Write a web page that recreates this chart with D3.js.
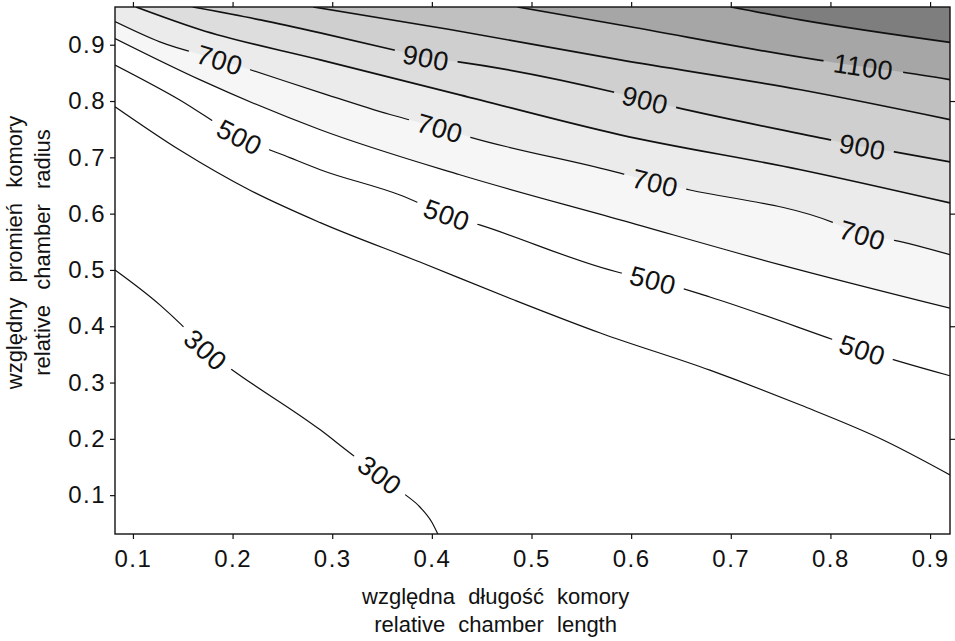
<!DOCTYPE html>
<html>
<head>
<meta charset="utf-8">
<script src="https://cdn.jsdelivr.net/npm/d3@7"></script>
<style>
  body { margin: 0; background: #fff; }
  text { font-family: "Liberation Sans", Arial, sans-serif; fill: #111; }
</style>
</head>
<body>
<div class="chart"></div>
<script>
// Contour lines: [relative length, relative radius]
const levels = [300, 400, 500, 600, 700, 800, 900, 1000, 1100, 1200];

const line300 = [[0.082, 0.500], [0.127, 0.438], [0.149, 0.402], [0.173, 0.358], [0.197, 0.326],
  [0.288, 0.216], [0.323, 0.168], [0.348, 0.136], [0.371, 0.104], [0.388, 0.079], [0.400, 0.052], [0.406, 0.031]];
const line400 = [[0.082, 0.790], [0.147, 0.713], [0.217, 0.642], [0.288, 0.584], [0.388, 0.514],
  [0.482, 0.447], [0.569, 0.388], [0.679, 0.322], [0.770, 0.260], [0.853, 0.198], [0.920, 0.136]];
const line500 = [[0.082, 0.864], [0.147, 0.802], [0.207, 0.736], [0.258, 0.699], [0.288, 0.678],
  [0.368, 0.633], [0.415, 0.598], [0.448, 0.580], [0.589, 0.495], [0.622, 0.482], [0.679, 0.452],
  [0.803, 0.376], [0.832, 0.358], [0.920, 0.312]];
const line600 = [[0.082, 0.911], [0.167, 0.838], [0.288, 0.749], [0.428, 0.669], [0.589, 0.589],
  [0.750, 0.509], [0.920, 0.432]];
const line700 = [[0.082, 0.941], [0.127, 0.905], [0.187, 0.873], [0.217, 0.856], [0.288, 0.815],
  [0.358, 0.776], [0.408, 0.752], [0.438, 0.736], [0.589, 0.672], [0.624, 0.655], [0.659, 0.642],
  [0.803, 0.584], [0.832, 0.562], [0.863, 0.553], [0.920, 0.527]];
const line800 = [[0.103, 0.967], [0.167, 0.927], [0.288, 0.873], [0.428, 0.811], [0.589, 0.740],
  [0.770, 0.678], [0.920, 0.619]];
const line900 = [[0.160, 0.967], [0.228, 0.944], [0.288, 0.921], [0.361, 0.891], [0.394, 0.877],
  [0.425, 0.870], [0.582, 0.816], [0.614, 0.802], [0.642, 0.790], [0.800, 0.731], [0.832, 0.719],
  [0.863, 0.710], [0.920, 0.692]];
const line1000 = [[0.281, 0.967], [0.418, 0.927], [0.589, 0.873], [0.770, 0.820], [0.920, 0.767]];
const line1100 = [[0.486, 0.967], [0.589, 0.935], [0.787, 0.873], [0.833, 0.861], [0.870, 0.852], [0.920, 0.838]];
const line1200 = [[0.700, 0.967], [0.770, 0.944], [0.920, 0.904]];

const contourLines = [line300, line400, line500, line600, line700, line800, line900, line1000, line1100, line1200];

// grey shade of the area lying above each contour
const shadeLevels = [600, 700, 800, 900, 1000, 1100, 1200];
const shadeColors = ["#f6f6f6", "#ebebeb", "#dddddd", "#cfcfcf", "#c0c0c0", "#a6a6a6", "#7e7e7e"];

// contour labels: level and position along the length axis
const labelLevels = [700, 500, 300, 900, 700, 500, 300, 900, 700, 500, 1100, 900, 700, 500];
const labelX = [0.187, 0.207, 0.173, 0.394, 0.408, 0.415, 0.348, 0.614, 0.624, 0.622, 0.833, 0.832, 0.832, 0.832];

const xTicks = [0.1, 0.2, 0.3, 0.4, 0.5, 0.6, 0.7, 0.8, 0.9];
const yTicks = [0.1, 0.2, 0.3, 0.4, 0.5, 0.6, 0.7, 0.8, 0.9];
const yTicksRight = [0.2, 0.4, 0.6, 0.8];

// Set the dimensions and margins of the graph
let margin = { top: 7, right: 5, bottom: 107, left: 115 },
  width = 955 - margin.left - margin.right,
  height = 641 - margin.top - margin.bottom;

const svg = d3
  .select(".chart")
  .append("svg")
  .attr("width", 955)
  .attr("height", 641)
  .append("g")
  .attr("transform", `translate(${margin.left},${margin.top})`);

const x = d3.scaleLinear().domain([0.082, 0.920]).range([0, width]);
const y = d3.scaleLinear().domain([0.031, 0.967]).range([height, 0]);

const lineGen = d3
  .line()
  .curve(d3.curveMonotoneX)
  .x((d) => x(d[0]))
  .y((d) => y(d[1]));

svg.append("clipPath").attr("id", "plot").append("rect").attr("width", width).attr("height", height);

// shaded areas, painted from the lowest level up
const shade = svg.append("g").attr("clip-path", "url(#plot)");
shadeLevels.forEach((lev, i) => {
  const pts = contourLines[levels.indexOf(lev)];
  let d = lineGen(pts) + `L${x(0.920)},${y(0.967)}`;
  if (pts[0][0] <= 0.082) d += `L${x(0.082)},${y(0.967)}`;
  shade.append("path").attr("d", d + "Z").attr("fill", shadeColors[i]);
});

// positions of the labels on their lines (in pixels)
function yAtPx(pts, px) {
  const p = pts.map((d) => [x(d[0]), y(d[1])]);
  for (let k = 0; k < p.length - 1; k++) {
    if (px >= p[k][0] && px <= p[k + 1][0]) {
      const t = (px - p[k][0]) / (p[k + 1][0] - p[k][0]);
      return p[k][1] + t * (p[k + 1][1] - p[k][1]);
    }
  }
  return px < p[0][0] ? p[0][1] : p[p.length - 1][1];
}

const labelData = labelLevels.map((lev, i) => {
  const pts = contourLines[levels.indexOf(lev)];
  const px = x(labelX[i]);
  const py = yAtPx(pts, px);
  const ang = (Math.atan2(yAtPx(pts, px + 22) - yAtPx(pts, px - 22), 44) * 180) / Math.PI;
  return { level: lev, px: px, py: py, ang: ang };
});

// mask to break lines under the labels
const halfGap = (d) => String(d.level).length * 8.3 + 7;
const mask = svg.append("mask").attr("id", "gaps").attr("maskUnits", "userSpaceOnUse")
  .attr("x", -20).attr("y", -20).attr("width", width + 40).attr("height", height + 40);
mask.append("rect").attr("x", -20).attr("y", -20).attr("width", width + 40).attr("height", height + 40).attr("fill", "white");
mask
  .selectAll("rect.gap")
  .data(labelData)
  .join("rect")
  .attr("class", "gap")
  .attr("x", (d) => -halfGap(d))
  .attr("y", -13)
  .attr("width", (d) => 2 * halfGap(d))
  .attr("height", 26)
  .attr("fill", "black")
  .attr("transform", (d) => `translate(${d.px},${d.py}) rotate(${d.ang})`);

// contour lines
svg
  .append("g")
  .attr("clip-path", "url(#plot)")
  .append("g")
  .attr("mask", "url(#gaps)")
  .selectAll("path")
  .data(contourLines)
  .join("path")
  .attr("d", lineGen)
  .attr("fill", "none")
  .attr("stroke", "#111")
  .attr("stroke-width", (d, i) => (levels[i] >= 800 ? 1.7 : 1.2));

// contour labels
svg
  .selectAll(".clabel")
  .data(labelData)
  .join("text")
  .attr("class", "clabel")
  .attr("transform", (d) => `translate(${d.px},${d.py}) rotate(${d.ang})`)
  .attr("text-anchor", "middle")
  .attr("dy", "0.36em")
  .style("font-size", "27px")
  .style("letter-spacing", "0.5px")
  .text((d) => d.level);

// axes
const styleAxis = (g) => {
  g.select(".domain").remove();
  g.selectAll("line").attr("stroke", "#111").attr("stroke-width", 1.2);
  g.selectAll("text").style("font-size", "24px").style("letter-spacing", "1.5px").attr("fill", "#111");
};

svg.append("g")
  .attr("transform", `translate(0,${height})`)
  .call(d3.axisBottom(x).tickValues(xTicks).tickSize(5).tickPadding(11).tickFormat(d3.format(".1f")))
  .call(styleAxis);

svg.append("g")
  .call(d3.axisTop(x).tickValues(xTicks).tickSize(5).tickFormat(""))
  .call(styleAxis);

svg.append("g")
  .call(d3.axisLeft(y).tickValues(yTicks).tickSize(5).tickPadding(4).tickFormat(d3.format(".1f")))
  .call(styleAxis);

svg.append("g")
  .attr("transform", `translate(${width},0)`)
  .call(d3.axisRight(y).tickValues(yTicksRight).tickSize(5).tickFormat(""))
  .call(styleAxis);

// frame
svg.append("rect")
  .attr("width", width)
  .attr("height", height)
  .attr("fill", "none")
  .attr("stroke", "#111")
  .attr("stroke-width", 1.4);

// axis titles
const xTitle = svg.append("text")
  .attr("text-anchor", "middle")
  .attr("transform", `translate(${x(0.464)},${height + 70})`)
  .style("font-size", "22px")
  .style("word-spacing", "7px");
xTitle.append("tspan").attr("x", 0).attr("y", 0).text("względna długość komory");
xTitle.append("tspan").attr("x", 0).attr("y", 28).text("relative chamber length");

const yTitle = svg.append("text")
  .attr("text-anchor", "middle")
  .attr("transform", `translate(${-93},${y(0.531)}) rotate(-90)`)
  .style("font-size", "22px")
  .style("word-spacing", "9px");
yTitle.append("tspan").attr("x", 0).attr("y", 0).text("względny promień komory");
yTitle.append("tspan").attr("x", 0).attr("y", 28).text("relative chamber radius");
</script>
</body>
</html>
